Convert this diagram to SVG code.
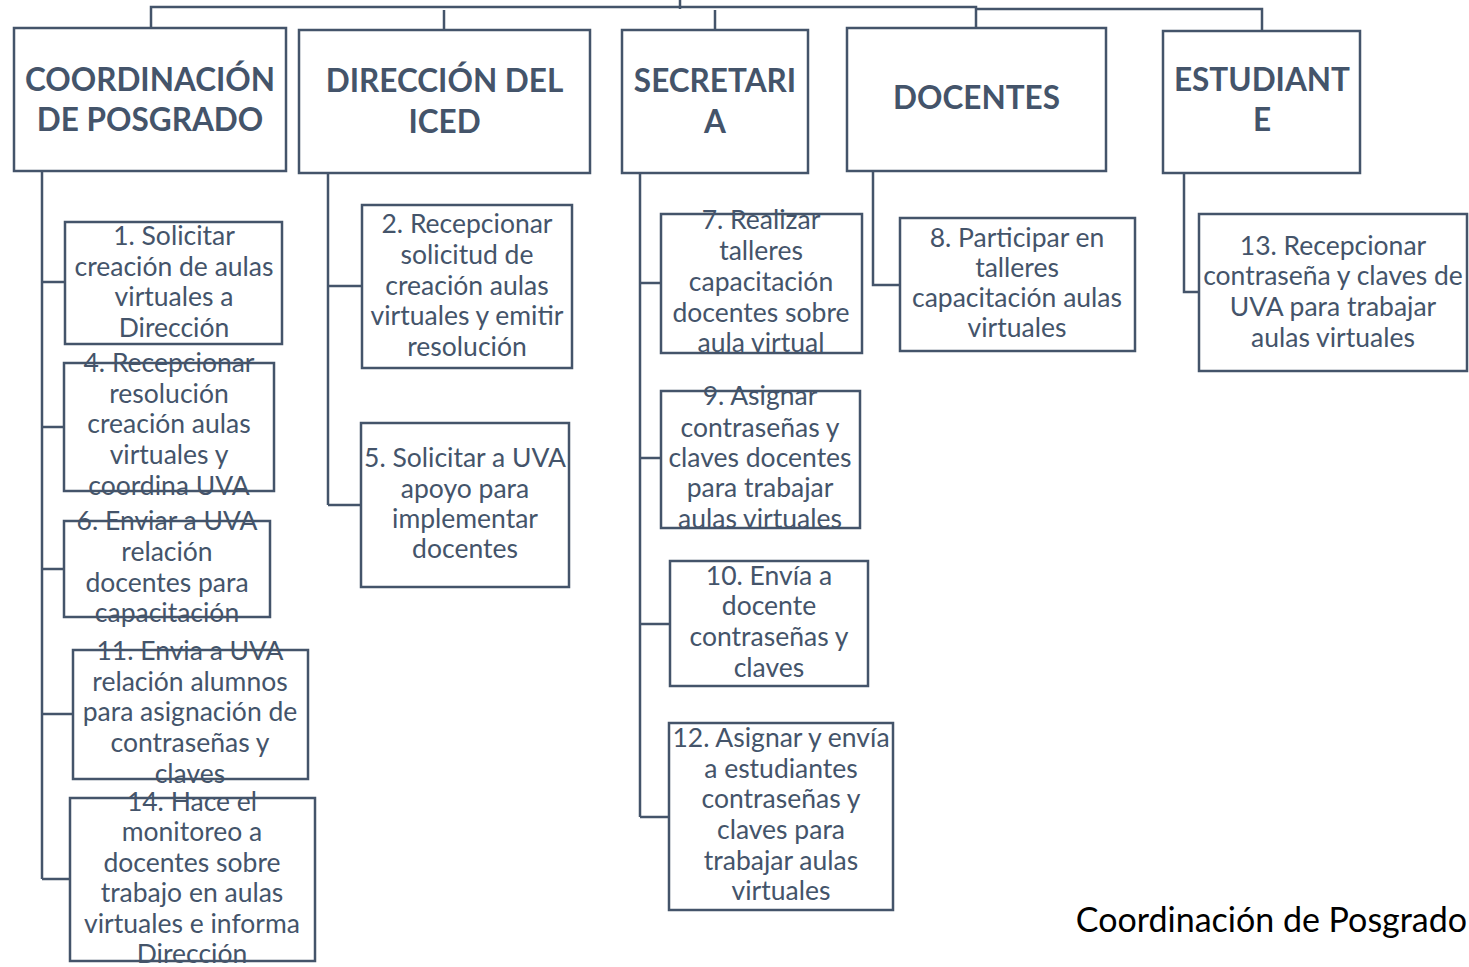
<svg xmlns="http://www.w3.org/2000/svg" width="1469" height="967" viewBox="0 0 1469 967">
<style>
.box{fill:#fff;stroke:#44546A;stroke-width:2.5}
.c{fill:none;stroke:#44546A;stroke-width:2.5}
.h{font-family:Lato,"Open Sans",sans-serif;font-weight:bold;font-size:31.5px;fill:#44546A;text-anchor:middle}
.t{font-family:Lato,"Open Sans",sans-serif;font-size:26.5px;fill:#44546A;text-anchor:middle}
.f{font-family:Lato,"Open Sans",sans-serif;font-size:34px;fill:#000;text-anchor:end}
</style>
<g id="connectors">
<path class="c" d="M680 0V9M151 28V7H976V28M444 30V10M715 30V10M976 9H1262V31"/>
<path class="c" d="M42 171V879M42 282H65M42 427H64M42 569H64M42 714H73M42 879H70"/>
<path class="c" d="M328 173V505M328 286H362M328 505H361"/>
<path class="c" d="M640 173V817M640 283H661M640 458H661M640 624H670M640 817H669"/>
<path class="c" d="M873 171V285H900"/>
<path class="c" d="M1184 173V292H1199"/>
</g>
<g id="n-coord"><rect class="box" x="14" y="28" width="272" height="143"/><text class="h" x="150" y="91">COORDINACIÓN</text><text class="h" x="150" y="131">DE POSGRADO</text></g>
<g id="n-dir"><rect class="box" x="299" y="30" width="291" height="143"/><text class="h" x="444.5" y="92">DIRECCIÓN DEL</text><text class="h" x="444.5" y="133">ICED</text></g>
<g id="n-sec"><rect class="box" x="622" y="30" width="186" height="143"/><text class="h" x="715" y="92">SECRETARI</text><text class="h" x="715" y="133">A</text></g>
<g id="n-doc"><rect class="box" x="847" y="28" width="259" height="143"/><text class="h" x="976.5" y="109">DOCENTES</text></g>
<g id="n-est"><rect class="box" x="1163" y="31" width="197" height="142"/><text class="h" x="1262" y="91">ESTUDIANT</text><text class="h" x="1262" y="131">E</text></g>

<g id="n1"><rect class="box" x="65" y="222" width="217" height="122"/><text class="t"><tspan x="174" y="245">1. Solicitar</tspan><tspan x="174" y="276">creación de aulas</tspan><tspan x="174" y="306">virtuales a</tspan><tspan x="174" y="337">Dirección</tspan></text></g>
<g id="n4"><rect class="box" x="64" y="363" width="210" height="128"/><text class="t"><tspan x="169" y="372">4. Recepcionar</tspan><tspan x="169" y="403">resolución</tspan><tspan x="169" y="433">creación aulas</tspan><tspan x="169" y="464">virtuales y</tspan><tspan x="169" y="495">coordina UVA</tspan></text></g>
<g id="n6"><rect class="box" x="64" y="521" width="206" height="96"/><text class="t"><tspan x="167" y="530">6. Enviar a UVA</tspan><tspan x="167" y="561">relación</tspan><tspan x="167" y="592">docentes para</tspan><tspan x="167" y="622">capacitación</tspan></text></g>
<g id="n11"><rect class="box" x="73" y="650" width="235" height="129"/><text class="t"><tspan x="190" y="660">11. Envia a UVA</tspan><tspan x="190" y="691">relación alumnos</tspan><tspan x="190" y="721">para asignación de</tspan><tspan x="190" y="752">contraseñas y</tspan><tspan x="190" y="783">claves</tspan></text></g>
<g id="n14"><rect class="box" x="70" y="798" width="245" height="163"/><text class="t"><tspan x="192" y="811">14. Hace el</tspan><tspan x="192" y="841">monitoreo a</tspan><tspan x="192" y="872">docentes sobre</tspan><tspan x="192" y="902">trabajo en aulas</tspan><tspan x="192" y="933">virtuales e informa</tspan><tspan x="192" y="963">Dirección</tspan></text></g>

<g id="n2"><rect class="box" x="362" y="205" width="210" height="163"/><text class="t"><tspan x="467" y="233">2. Recepcionar</tspan><tspan x="467" y="264">solicitud de</tspan><tspan x="467" y="295">creación aulas</tspan><tspan x="467" y="325">virtuales y emitir</tspan><tspan x="467" y="356">resolución</tspan></text></g>
<g id="n5"><rect class="box" x="361" y="423" width="208" height="164"/><text class="t"><tspan x="465" y="467">5. Solicitar a UVA</tspan><tspan x="465" y="498">apoyo para</tspan><tspan x="465" y="528">implementar</tspan><tspan x="465" y="558">docentes</tspan></text></g>

<g id="n7"><rect class="box" x="661" y="214" width="201" height="139"/><text class="t"><tspan x="761" y="229">7. Realizar</tspan><tspan x="761" y="260">talleres</tspan><tspan x="761" y="291">capacitación</tspan><tspan x="761" y="322">docentes sobre</tspan><tspan x="761" y="352">aula virtual</tspan></text></g>
<g id="n9"><rect class="box" x="661" y="391" width="199" height="137"/><text class="t"><tspan x="760" y="405">9. Asignar</tspan><tspan x="760" y="437">contraseñas y</tspan><tspan x="760" y="467">claves docentes</tspan><tspan x="760" y="497">para trabajar</tspan><tspan x="760" y="528">aulas virtuales</tspan></text></g>
<g id="n10"><rect class="box" x="670" y="561" width="198" height="125"/><text class="t"><tspan x="769" y="585">10. Envía a</tspan><tspan x="769" y="615">docente</tspan><tspan x="769" y="646">contraseñas y</tspan><tspan x="769" y="677">claves</tspan></text></g>
<g id="n12"><rect class="box" x="669" y="723" width="224" height="187"/><text class="t"><tspan x="781" y="747">12. Asignar y envía</tspan><tspan x="781" y="778">a estudiantes</tspan><tspan x="781" y="808">contraseñas y</tspan><tspan x="781" y="839">claves para</tspan><tspan x="781" y="870">trabajar aulas</tspan><tspan x="781" y="900">virtuales</tspan></text></g>

<g id="n8"><rect class="box" x="900" y="218" width="235" height="133"/><text class="t"><tspan x="1017" y="247">8. Participar en</tspan><tspan x="1017" y="277">talleres</tspan><tspan x="1017" y="307">capacitación aulas</tspan><tspan x="1017" y="337">virtuales</tspan></text></g>
<g id="n13"><rect class="box" x="1199" y="214" width="268" height="157"/><text class="t"><tspan x="1333" y="255">13. Recepcionar</tspan><tspan x="1333" y="285">contraseña y claves de</tspan><tspan x="1333" y="316">UVA para trabajar</tspan><tspan x="1333" y="347">aulas virtuales</tspan></text></g>

<text class="f" x="1467" y="932">Coordinación de Posgrado</text>
</svg>
